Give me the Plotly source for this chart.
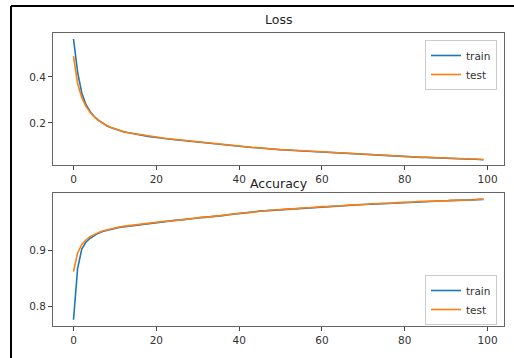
import plotly.graph_objects as go

epochs = list(range(100))

train_loss = [
    0.565, 0.420, 0.330, 0.280, 0.250, 0.228, 0.212, 0.198, 0.188, 0.180,
    0.173, 0.167, 0.162, 0.158, 0.154, 0.150, 0.147, 0.144, 0.141, 0.139,
    0.136, 0.134, 0.132, 0.130, 0.128, 0.126, 0.124, 0.122, 0.120, 0.118,
    0.116, 0.114, 0.112, 0.110, 0.108, 0.107, 0.105, 0.103, 0.101, 0.099,
    0.097, 0.096, 0.094, 0.093, 0.092, 0.090, 0.089, 0.087, 0.086, 0.085,
    0.083, 0.082, 0.081, 0.079, 0.078, 0.077, 0.076, 0.075, 0.073, 0.072,
    0.071, 0.070, 0.069, 0.068, 0.068, 0.067, 0.066, 0.065, 0.064, 0.063,
    0.062, 0.061, 0.060, 0.060, 0.059, 0.058, 0.057, 0.056, 0.055, 0.054,
    0.053, 0.052, 0.052, 0.051, 0.050, 0.050, 0.049, 0.048, 0.048, 0.047,
    0.046, 0.046, 0.045, 0.044, 0.044, 0.043, 0.042, 0.042, 0.041, 0.040,
]
test_loss = [
    0.490, 0.370, 0.310, 0.272, 0.246, 0.226, 0.211, 0.198, 0.189, 0.181,
    0.174, 0.168, 0.163, 0.158, 0.155, 0.151, 0.148, 0.145, 0.142, 0.139,
    0.137, 0.135, 0.133, 0.131, 0.129, 0.127, 0.125, 0.123, 0.121, 0.119,
    0.117, 0.115, 0.113, 0.111, 0.109, 0.108, 0.106, 0.104, 0.102, 0.100,
    0.098, 0.097, 0.095, 0.094, 0.093, 0.091, 0.090, 0.088, 0.087, 0.086,
    0.084, 0.083, 0.082, 0.080, 0.079, 0.078, 0.077, 0.076, 0.074, 0.073,
    0.072, 0.071, 0.070, 0.069, 0.069, 0.068, 0.067, 0.066, 0.065, 0.064,
    0.063, 0.062, 0.061, 0.061, 0.060, 0.059, 0.058, 0.057, 0.056, 0.055,
    0.054, 0.053, 0.053, 0.052, 0.051, 0.051, 0.050, 0.049, 0.049, 0.048,
    0.047, 0.047, 0.046, 0.045, 0.045, 0.044, 0.043, 0.043, 0.042, 0.041,
]
train_acc = [
    0.777, 0.868, 0.902, 0.914, 0.921, 0.926, 0.930, 0.933, 0.935, 0.937,
    0.939, 0.940, 0.941, 0.942, 0.943, 0.944, 0.945, 0.946, 0.947, 0.948,
    0.949, 0.9495, 0.950, 0.951, 0.952, 0.953, 0.9535, 0.954, 0.955, 0.956,
    0.957, 0.9575, 0.958, 0.959, 0.960, 0.9605, 0.961, 0.962, 0.963, 0.9635,
    0.964, 0.965, 0.966, 0.967, 0.968, 0.969, 0.9695, 0.970, 0.9705, 0.971,
    0.9715, 0.972, 0.9725, 0.973, 0.9735, 0.974, 0.9745, 0.975, 0.9755, 0.976,
    0.9765, 0.977, 0.9774, 0.9778, 0.9782, 0.9786, 0.979, 0.9794, 0.9798, 0.9802,
    0.9806, 0.981, 0.9814, 0.9818, 0.9822, 0.9826, 0.983, 0.9834, 0.9838, 0.9842,
    0.9846, 0.9849, 0.9852, 0.9855, 0.9858, 0.9861, 0.9864, 0.9866, 0.9868, 0.987,
    0.9872, 0.9875, 0.9878, 0.988, 0.9883, 0.9886, 0.9889, 0.9892, 0.9895, 0.9898,
]
test_acc = [
    0.862, 0.895, 0.910, 0.918, 0.924, 0.928, 0.931, 0.934, 0.936, 0.938,
    0.939, 0.941, 0.942, 0.943, 0.944, 0.945, 0.946, 0.947, 0.948, 0.948,
    0.949, 0.950, 0.951, 0.951, 0.952, 0.953, 0.954, 0.955, 0.955, 0.956,
    0.957, 0.958, 0.958, 0.959, 0.960, 0.961, 0.962, 0.962, 0.963, 0.964,
    0.965, 0.966, 0.966, 0.967, 0.968, 0.969, 0.970, 0.970, 0.971, 0.971,
    0.972, 0.972, 0.973, 0.973, 0.974, 0.974, 0.975, 0.975, 0.976, 0.976,
    0.977, 0.977, 0.978, 0.978, 0.978, 0.979, 0.979, 0.980, 0.980, 0.980,
    0.981, 0.981, 0.982, 0.982, 0.982, 0.983, 0.983, 0.983, 0.984, 0.984,
    0.985, 0.985, 0.985, 0.986, 0.986, 0.986, 0.987, 0.987, 0.987, 0.987,
    0.987, 0.988, 0.988, 0.988, 0.988, 0.989, 0.989, 0.989, 0.990, 0.990,
]

x_ticks = [0, 20, 40, 60, 80, 100]
loss_ticks = [0.2, 0.4]
acc_ticks = [0.8, 0.9]

BLUE = "#1f77b4"
ORANGE = "#ff7f0e"
W, H = 514, 358

fig = go.Figure()
fig.add_trace(go.Scatter(x=epochs, y=train_loss, mode="lines", name="train",
                         line=dict(color=BLUE, width=1.6), xaxis="x", yaxis="y", legend="legend"))
fig.add_trace(go.Scatter(x=epochs, y=test_loss, mode="lines", name="test",
                         line=dict(color=ORANGE, width=1.6), xaxis="x", yaxis="y", legend="legend"))
fig.add_trace(go.Scatter(x=epochs, y=train_acc, mode="lines", name="train",
                         line=dict(color=BLUE, width=1.6), xaxis="x2", yaxis="y2", legend="legend2"))
fig.add_trace(go.Scatter(x=epochs, y=test_acc, mode="lines", name="test",
                         line=dict(color=ORANGE, width=1.6), xaxis="x2", yaxis="y2", legend="legend2"))

axis_common = dict(showgrid=False, zeroline=False, showline=True, mirror=True,
                   linecolor="#666", linewidth=1, ticks="outside", ticklen=4,
                   tickcolor="#444", tickfont=dict(family="DejaVu Sans", size=10.5, color="#333"))

xdom = [53 / W, 504 / W]
legend_common = dict(bgcolor="rgba(255,255,255,0.8)", bordercolor="#ccc", borderwidth=1,
                     font=dict(family="DejaVu Sans", size=10.5, color="#333"), itemwidth=30,
                     tracegroupgap=0, xanchor="right", yanchor="top", x=497 / W)
fig.update_layout(
    width=W, height=H, margin=dict(l=0, r=0, t=0, b=0),
    paper_bgcolor="white", plot_bgcolor="white",
    xaxis=dict(domain=xdom, range=[-4.95, 103.95], tickvals=x_ticks, anchor="y", **axis_common),
    yaxis=dict(domain=[1 - 165 / H, 1 - 33 / H], range=[0.017, 0.591], tickvals=loss_ticks,
               ticktext=["0.2", "0.4"], anchor="x", **axis_common),
    xaxis2=dict(domain=xdom, range=[-4.95, 103.95], tickvals=x_ticks, anchor="y2", **axis_common),
    yaxis2=dict(domain=[1 - 326 / H, 1 - 193 / H], range=[0.766, 1.001], tickvals=acc_ticks,
                ticktext=["0.8", "0.9"], anchor="x2", **axis_common),
    legend=dict(y=1 - 40 / H, **legend_common),
    legend2=dict(y=1 - 275 / H, **legend_common),
    annotations=[
        dict(text="Loss", x=(xdom[0] + xdom[1]) / 2, y=1 - 19 / H, xref="paper", yref="paper",
             showarrow=False, xanchor="center", yanchor="middle",
             font=dict(family="DejaVu Sans", size=12.5, color="#222")),
        dict(text="Accuracy", x=(xdom[0] + xdom[1]) / 2, y=1 - 183 / H, xref="paper", yref="paper",
             showarrow=False, xanchor="center", yanchor="middle",
             font=dict(family="DejaVu Sans", size=12.5, color="#222")),
    ],
    shapes=[
        dict(type="line", xref="paper", yref="paper", x0=11 / W, x1=1.0, y0=1 - 6 / H, y1=1 - 6 / H,
             line=dict(color="black", width=2), layer="above"),
        dict(type="line", xref="paper", yref="paper", x0=11 / W, x1=11 / W, y0=0.0, y1=1 - 6 / H,
             line=dict(color="black", width=2), layer="above"),
    ],
)

fig.write_html("out.html")
